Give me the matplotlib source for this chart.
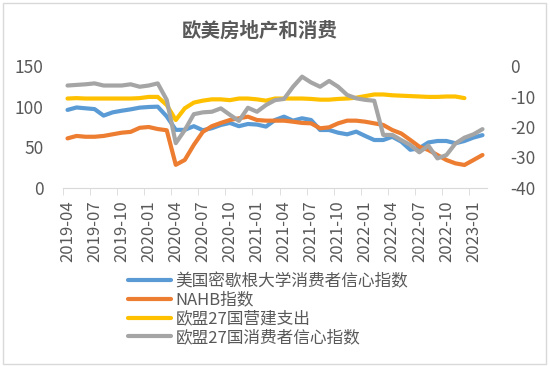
import numpy as np
import pandas as pd
import matplotlib
matplotlib.use('Agg')
import matplotlib.pyplot as plt
from matplotlib.patches import Rectangle

plt.rcParams['font.family'] = ['Noto Sans CJK SC', 'DejaVu Sans']

### Data
months = pd.date_range('2019-04-01', '2023-02-01', freq='MS').strftime('%Y-%m').tolist()

umich = [96, 99, 98, 97, 89, 93, 95, 96.7, 98.8, 99.6, 100, 88,
         71.5, 71.5, 76, 71, 73.5, 77.5, 80, 76, 78.7, 78, 75.5, 83.6,
         87.7, 82.8, 85.7, 83.6, 71.3, 71.3, 68, 66, 69.3, 64, 59, 59,
         63, 57, 47, 49, 56, 57.8, 57.8, 55, 57.8, 62, 65]

nahb = [61, 64, 63, 63, 64, 66, 68, 69, 74, 75, 72.5, 71,
        28.5, 34.5, 53, 69, 76, 80, 83.6, 85.7, 87.7, 83.6, 82.8, 82.8,
        82.8, 81.5, 80, 79.5, 73.4, 74.6, 79.5, 82.8, 82.8, 81.5, 79.5, 77.5,
        71.3, 67, 59, 50.8, 46.7, 40.6, 34.4, 30.3, 28.3, 34.4, 40.6]

eu_construction = [110, 110.5, 110, 110, 110, 110, 110, 110, 110.5, 112, 112, 102,
                   83.6, 98, 105, 107.4, 109, 109, 108, 110, 110, 109, 107.4, 110,
                   110, 110, 110, 109.5, 108.6, 108.6, 109.5, 110, 111, 113, 115, 115,
                   114, 113.5, 113, 112.5, 112, 112, 112.5, 112.5, 110.5, np.nan, np.nan]

eu_confidence = [-6.4, -6.2, -6.0, -5.7, -6.4, -6.4, -6.4, -6.0, -6.8, -6.4, -5.7, -11.1,
                 -25.3, -21, -15.8, -15.2, -15, -13.9, -16, -18, -13.7, -15, -12.8, -11.2,
                 -10.8, -6.8, -3.5, -5.4, -6.8, -4.9, -6.8, -9.5, -10.6, -11.1, -11.4, -22.6,
                 -22.6, -24.3, -25.9, -28.3, -26.1, -30.3, -29.2, -25.4, -23.5, -22.4, -20.7]

labels = ['美国密歇根大学消费者信心指数', 'NAHB指数', '欧盟27国营建支出', '欧盟27国消费者信心指数']
colors = ['#5B9BD5', '#ED7D31', '#FFC000', '#A5A5A5']
text_color = '#595959'

x = np.arange(len(months))

fig = plt.figure(figsize=(5.5, 3.66), dpi=100)
ax = fig.add_axes([63 / 550, 1 - 188 / 366, 424 / 550, 122 / 366])
ax2 = ax.twinx()

l1, = ax.plot(x, umich, color=colors[0], lw=3, solid_capstyle='round')
l2, = ax.plot(x, nahb, color=colors[1], lw=3, solid_capstyle='round')
l3, = ax.plot(x, eu_construction, color=colors[2], lw=3, solid_capstyle='round')
l4, = ax2.plot(x, eu_confidence, color=colors[3], lw=3, solid_capstyle='round')

ax.set_xlim(-0.5, len(months) - 0.5)
ax.set_ylim(0, 150)
ax2.set_ylim(-40, 0)
ax.set_yticks([0, 50, 100, 150])
ax2.set_yticks([-40, -30, -20, -10, 0])
ax2.set_yticklabels(['-40', '-30', '-20', '-10', '0'])

### Hide spines except a light bottom axis line
for a in (ax, ax2):
    for s in ('top', 'left', 'right', 'bottom'):
        a.spines[s].set_visible(False)
ax.spines['bottom'].set_visible(True)
ax.spines['bottom'].set_color('#D9D9D9')

### Category labels every 3 months, tick marks between categories
ax.set_xticks(x[::3])
ax.set_xticklabels(months[::3], rotation=90)
ax.set_xticks(x[::3] - 0.5, minor=True)
ax.tick_params(axis='x', which='major', length=0, pad=9, labelsize=12, colors=text_color)
ax.tick_params(axis='x', which='minor', length=5, color='#D9D9D9')
ax.tick_params(axis='y', length=0, pad=14, labelsize=12.5, colors=text_color)
ax2.tick_params(axis='y', length=0, pad=17, labelsize=12.5, colors=text_color)

fig.text(0.473, 1 - 31 / 366, '欧美房地产和消费', ha='center', va='center',
         fontsize=14, fontweight='bold', color=text_color)

fig.legend([l1, l2, l3, l4], labels, loc='upper left',
           bbox_to_anchor=(128 / 550, 1 - 273 / 366), frameon=False,
           fontsize=12, handlelength=2.6, handletextpad=0.25,
           labelspacing=0.1, borderpad=0, borderaxespad=0, labelcolor=text_color)

fig.patches.append(Rectangle((3 / 550, 2 / 366), 543 / 550, 361 / 366,
                             transform=fig.transFigure, fill=False,
                             edgecolor='#D9D9D9', lw=1))

plt.savefig('out.png', dpi=100)
